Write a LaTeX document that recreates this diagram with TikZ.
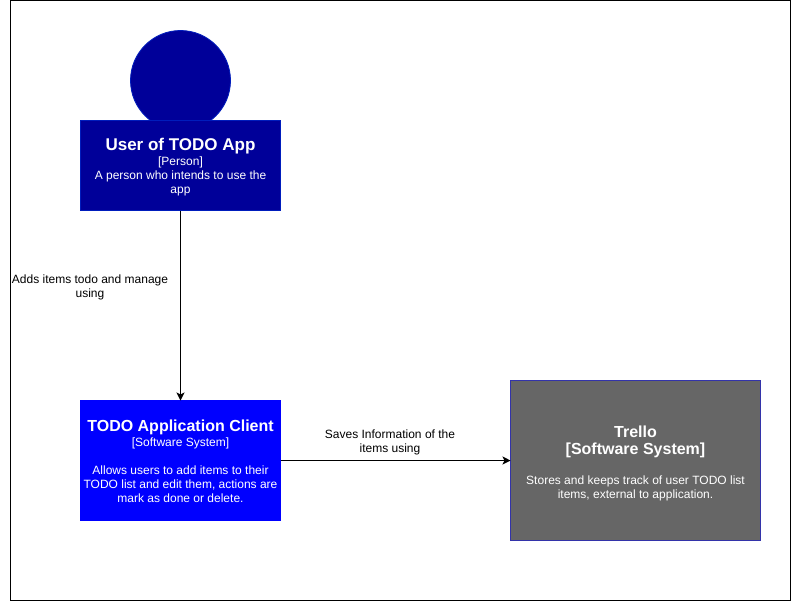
\documentclass[tikz,border=0pt]{standalone}
\usepackage{fontspec}
\setmainfont{Liberation Sans}
\usetikzlibrary{arrows.meta}
\definecolor{dkblue}{HTML}{000099}
\definecolor{edgeblue}{HTML}{001DBC}
\definecolor{grayedge}{HTML}{3333AA}
\definecolor{pureblue}{HTML}{0000FF}
\definecolor{trellogray}{HTML}{666666}
\newcommand{\px}{0.75pt}
\newcommand{\bodyfont}{\fontsize{9pt}{10.5pt}\selectfont}
\newcommand{\titlefont}{\fontsize{12.75pt}{15pt}\selectfont\bfseries}
\newcommand{\subtitlefont}{\fontsize{12pt}{14pt}\selectfont\bfseries}
\tikzset{
 x=0.75pt,y=-0.75pt,
 box/.style={draw=edgeblue,line width=0.6pt,text=white,inner sep=0pt,outer sep=0pt,align=center,anchor=north west,font=\bodyfont},
 lab/.style={font=\bodyfont,align=center,text=black},
 conn/.style={draw=black,line width=0.75pt,-{Stealth[length=6pt,width=6pt,inset=1.5pt]}},
}
\begin{document}
\begin{tikzpicture}
\useasboundingbox (0,0) rectangle (791,601);
\node[draw=black,line width=0.75pt,minimum width=780*\px,minimum height=600*\px,inner sep=0pt,outer sep=0pt,anchor=north west] (frame) at (10.5,0.5) {};
\node[circle,draw=edgeblue,fill=dkblue,line width=0.6pt,minimum size=100*\px,inner sep=0pt,outer sep=0pt] (head) at (180.5,80.5) {};
\node[box,fill=dkblue,minimum width=200*\px,minimum height=90*\px] (user) at (80.5,120.5) {\rule{0pt}{11.1pt}\titlefont User of TODO App\\[0.7pt][Person]\\A person who intends to use the\\app};
\node[box,fill=pureblue,draw=pureblue,minimum width=200*\px,minimum height=120*\px] (client) at (80.5,400.5) {\rule{0pt}{9.5pt}\subtitlefont TODO Application Client\\[1pt][Software System]\\[10.5pt]Allows users to add items to their\\TODO list and edit them, actions are\\mark as done or delete.};
\node[box,draw=grayedge,fill=trellogray,minimum width=250*\px,minimum height=160*\px] (trello) at (510.5,380.5) {\rule{0pt}{12.7pt}\subtitlefont Trello\\[2.4pt]\subtitlefont [Software System]\\[12pt]Stores and keeps track of user TODO list\\items, external to application.};
\draw[conn] (user.south) -- (client.north);
\draw[conn] (client.east) -- (trello.west);
\node[lab] (l1) at (90,287) {Adds items todo and manage\\using};
\node[lab] (l2) at (390,442) {Saves Information of the\\items using};
\end{tikzpicture}
\end{document}
